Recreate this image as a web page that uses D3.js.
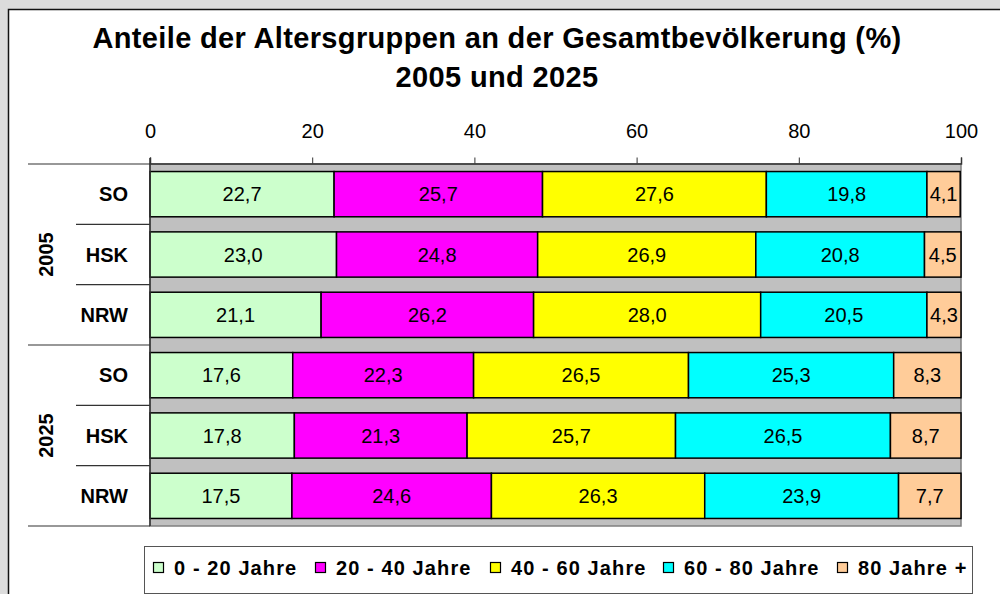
<!DOCTYPE html>
<html><head><meta charset="utf-8">
<script src="https://cdn.jsdelivr.net/npm/d3@7"></script>
<style>
html,body{margin:0;padding:0;background:#dcdcdc;}
svg{display:block;font-family:"Liberation Sans",Arial,sans-serif;}
</style></head>
<body>
<svg id="chart" width="1000" height="594"></svg>
<script>
const groups = ["2005", "2025"];
const regions = ["SO", "HSK", "NRW"];
const series = ["0 - 20 Jahre", "20 - 40 Jahre", "40 - 60 Jahre", "60 - 80 Jahre", "80 Jahre +"];
const colors = ["#ccffcc", "#ff00ff", "#ffff00", "#00ffff", "#ffcc99"];
const v2005 = [
  [22.7, 25.7, 27.6, 19.8, 4.1],
  [23.0, 24.8, 26.9, 20.8, 4.5],
  [21.1, 26.2, 28.0, 20.5, 4.3]
];
const v2025 = [
  [17.6, 22.3, 26.5, 25.3, 8.3],
  [17.8, 21.3, 25.7, 26.5, 8.7],
  [17.5, 24.6, 26.3, 23.9, 7.7]
];
const xTicks = [0, 20, 40, 60, 80, 100];
const titleLines = ["Anteile der Altersgruppen an der Gesamtbevölkerung (%)", "2005 und 2025"];

(function () {
const rows = [];
groups.forEach((g, gi) => {
  const vals = gi === 0 ? v2005 : v2025;
  regions.forEach((r, ri) => {
    const row = {key: g + "-" + r, group: g, region: r};
    series.forEach((s, si) => row[s] = vals[ri][si]);
    rows.push(row);
  });
});

const svg = d3.select("#chart");
// outer frame
svg.append("rect").attr("x", 8.5).attr("y", 9.5).attr("width", 1000).attr("height", 600)
  .attr("fill", "#fff").attr("stroke", "#111").attr("stroke-width", 1.5);

// title
svg.append("text").attr("x", 497).attr("y", 48).attr("text-anchor", "middle")
  .attr("font-size", 29).attr("font-weight", "bold").attr("letter-spacing", 0.35).text(titleLines[0]);
svg.append("text").attr("x", 497).attr("y", 87).attr("text-anchor", "middle")
  .attr("font-size", 29).attr("font-weight", "bold").attr("letter-spacing", 0.35).text(titleLines[1]);

const pLeft = 150, pRight = 961, pTop = 164, pBottom = 526;
const x = d3.scaleLinear().domain([0, 100]).range([pLeft, pRight]);
const y = d3.scaleBand().domain(rows.map(d => d.key)).range([pTop, pBottom]).paddingInner(0.25).paddingOuter(0.125);

// plot area
svg.append("rect").attr("x", pLeft).attr("y", pTop).attr("width", pRight - pLeft).attr("height", pBottom - pTop)
  .attr("fill", "#c0c0c0").attr("stroke", "#808080").attr("stroke-width", 1.5);

// top axis
const xAxis = d3.axisTop(x).tickValues(xTicks).tickSize(6).tickPadding(20).tickFormat(d3.format("d"));
const ax = svg.append("g").attr("transform", `translate(0,${pTop - 0.5})`).call(xAxis);
ax.select(".domain").attr("stroke", "#333").attr("stroke-width", 1.5);
ax.selectAll(".tick line").attr("stroke", "#333");
ax.selectAll(".tick text").attr("font-size", 20).attr("font-family", "Liberation Sans, Arial, sans-serif").attr("fill", "#000");

// stacked bars
const stack = d3.stack().keys(series)(rows);
const fmt = v => d3.format(".1f")(v).replace(".", ",");
stack.forEach((layer, li) => {
  const g = svg.append("g");
  g.selectAll("rect").data(layer).join("rect")
    .attr("x", d => x(d[0])).attr("y", d => y(d.data.key))
    .attr("width", d => x(Math.min(d[1], 100)) - x(d[0])).attr("height", y.bandwidth())
    .attr("fill", colors[li]).attr("stroke", "#000").attr("stroke-width", 1.5);
  g.selectAll("text").data(layer).join("text")
    .attr("x", d => (x(d[0]) + x(Math.min(d[1], 100))) / 2)
    .attr("y", d => y(d.data.key) + y.bandwidth() / 2 + 7)
    .attr("text-anchor", "middle").attr("font-size", 20).text(d => fmt(d.data[series[li]]));
});

// left axis line
svg.append("line").attr("x1", pLeft).attr("x2", pLeft).attr("y1", pTop - 6).attr("y2", pBottom)
  .attr("stroke", "#333").attr("stroke-width", 1.5);

// separators and labels
const sepY = d3.range(rows.length + 1).map(i => pTop + i * (pBottom - pTop) / rows.length);
sepY.forEach((sy, i) => {
  svg.append("line").attr("x1", i % 3 === 0 ? 28 : 76).attr("x2", pLeft).attr("y1", sy).attr("y2", sy)
    .attr("stroke", "#333").attr("stroke-width", 1.2);
});
rows.forEach((r, i) => {
  svg.append("text").attr("x", 128).attr("y", (sepY[i] + sepY[i + 1]) / 2 + 7)
    .attr("text-anchor", "end").attr("font-size", 20).attr("font-weight", "bold").text(r.region);
});
groups.forEach((g, gi) => {
  const cy = (sepY[gi * 3] + sepY[gi * 3 + 3]) / 2;
  svg.append("text").attr("transform", `translate(53,${cy}) rotate(-90)`)
    .attr("text-anchor", "middle").attr("font-size", 20).attr("font-weight", "bold").text(g);
});

// legend
svg.append("rect").attr("x", 144.5).attr("y", 546.5).attr("width", 828).attr("height", 47)
  .attr("fill", "#fff").attr("stroke", "#555").attr("stroke-width", 1);
const legX = [153, 315, 490, 663, 837];
series.forEach((s, i) => {
  svg.append("rect").attr("x", legX[i] + 0.5).attr("y", 562.5).attr("width", 10).attr("height", 10)
    .attr("fill", colors[i]).attr("stroke", "#000").attr("stroke-width", 1.2);
  svg.append("text").attr("x", legX[i] + 21).attr("y", 575).attr("font-size", 20)
    .attr("font-weight", "bold").attr("letter-spacing", 1.1).text(s);
});
})();
</script>
</body></html>
